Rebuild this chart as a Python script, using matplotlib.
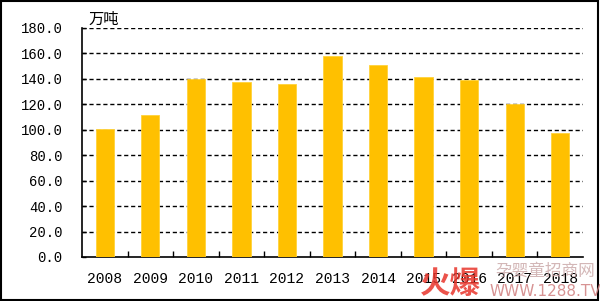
import numpy as np
import matplotlib.pyplot as plt
from matplotlib.patches import Rectangle
from matplotlib.ticker import FixedLocator

plt.rcParams['font.family'] = ['Liberation Mono', 'Noto Sans CJK SC', 'DejaVu Sans']

years = ['2008', '2009', '2010', '2011', '2012', '2013',
         '2014', '2015', '2016', '2017', '2018']
output = [100.8, 111.6, 140.0, 137.8, 136.0, 158.3,
          150.7, 141.7, 139.2, 120.3, 97.2]
yticks = [0, 20, 40, 60, 80, 100, 120, 140, 160, 180]

fig = plt.figure(figsize=(6.0, 3.01), dpi=100)
ax = fig.add_axes([82/600, 44/301, 501/600, 229/301])

x = np.arange(len(years))
ax.bar(x, output, width=0.4, color='#FFC000', edgecolor='#FFD23A',
       linewidth=0.6, zorder=3)

ax.set_xlim(-0.5, len(years) - 0.5)
ax.set_ylim(0, 180)
ax.set_yticks(yticks)
ax.set_yticklabels([f'{v:.1f}' for v in yticks], fontsize=10)
ax.set_xticks(x)
ax.set_xticklabels(years, fontsize=10.5)
ax.tick_params(axis='x', length=0, pad=11)
ax.tick_params(axis='y', direction='in', length=3, width=1, pad=14)

# category separators on the x axis
ax.xaxis.set_minor_locator(FixedLocator(x[:-1] + 0.5))
ax.tick_params(axis='x', which='minor', direction='in', length=4, width=1)

for v in yticks[1:]:
    ax.axhline(v, color='black', linewidth=1, linestyle=(0, (3, 2)), zorder=1)

for side in ['top', 'right']:
    ax.spines[side].set_visible(False)
ax.spines['left'].set_linewidth(1.2)
ax.spines['bottom'].set_linewidth(1.2)

fig.text(88/600, 1 - 19/301, '万吨', fontsize=11, va='center', ha='left',
         family=['Noto Sans CJK SC', 'DejaVu Sans'])

# image frame
fig.patches.append(Rectangle((0.002, 0.003), 0.994, 0.993, transform=fig.transFigure,
                             fill=False, edgecolor='black', linewidth=1.5))

# watermark
fig.text(450/600, 1 - 284/301, '火爆', fontsize=22, color='#E8352B', alpha=0.85,
         ha='center', va='center', weight='bold',
         family=['Noto Sans CJK SC', 'DejaVu Sans'])
fig.text(545/600, 1 - 271/301, '孕婴童招商网', fontsize=12, color='#C9A5A5', alpha=0.8,
         ha='center', va='center', family=['Noto Sans CJK SC', 'DejaVu Sans'])
fig.text(545/600, 1 - 291/301, 'WWW.1288.TV', fontsize=11, color='#D08080', alpha=0.85,
         ha='center', va='center', family=['DejaVu Sans'])

fig.savefig('out.png', dpi=100)
